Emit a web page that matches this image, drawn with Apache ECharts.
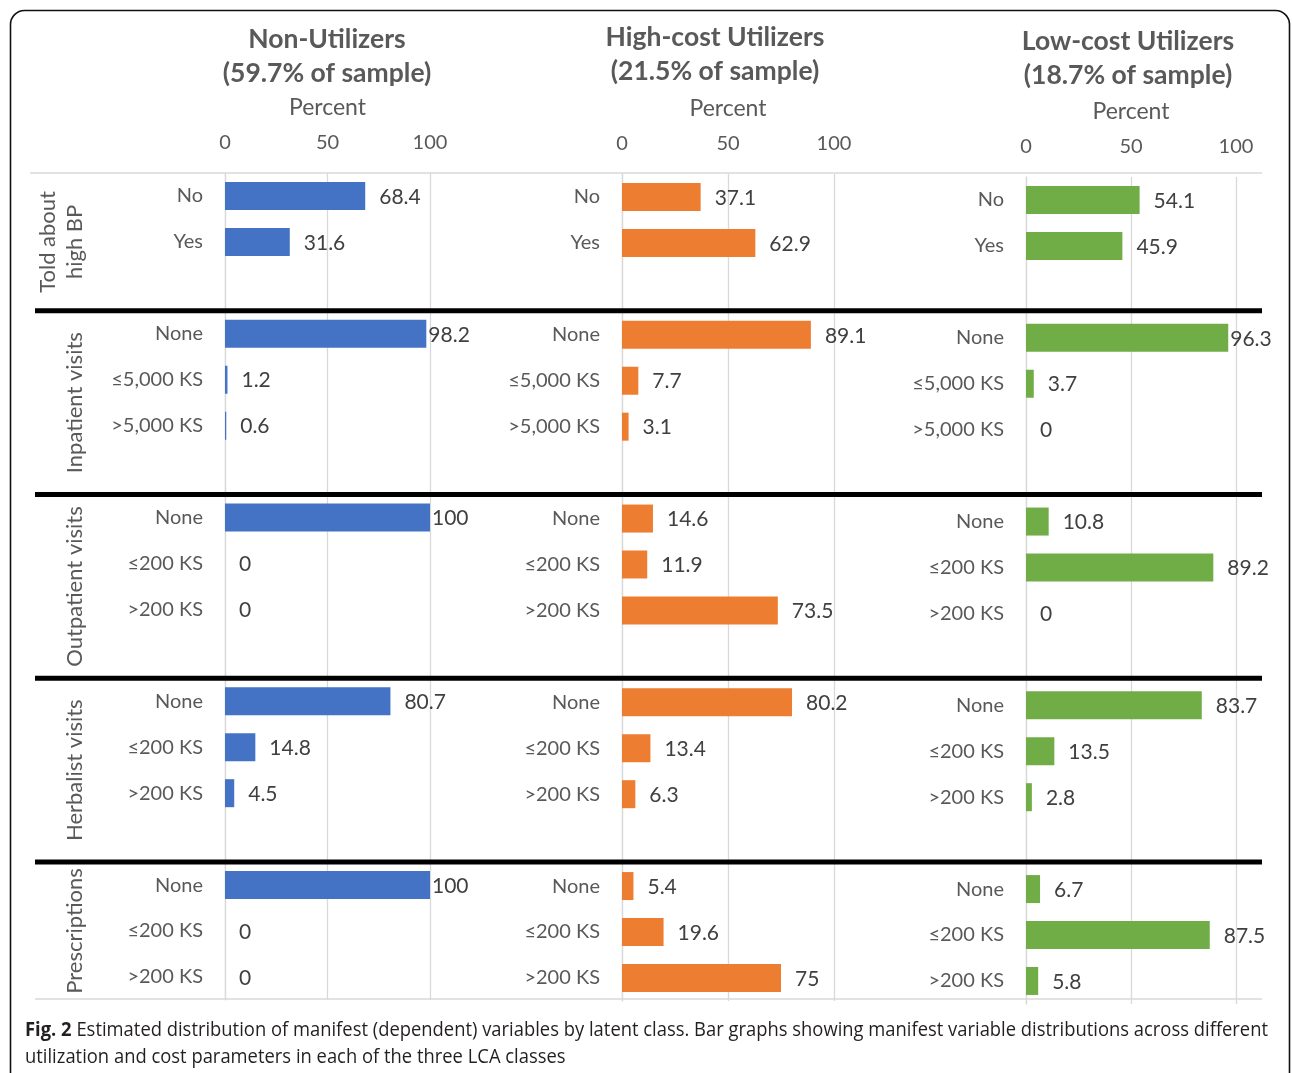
<!DOCTYPE html>
<html><head><meta charset="utf-8">
<script src="https://cdn.jsdelivr.net/npm/echarts@6/dist/echarts.min.js"></script>
<style>html,body{margin:0;padding:0;background:#fff}#c{width:1292px;height:1073px}</style>
</head><body><div id="c"></div>
<script>
// ---------- data ----------
const panelTitles = ['Non-Utilizers\n(59.7% of sample)', 'High-cost Utilizers\n(21.5% of sample)', 'Low-cost Utilizers\n(18.7% of sample)'];
const axisName = 'Percent';
const sectionNames = ['Told about\nhigh BP', 'Inpatient visits', 'Outpatient visits', 'Herbalist visits', 'Prescriptions'];
const sectionCategories = [
  ['No', 'Yes'],
  ['None', '≤5,000 KS', '>5,000 KS'],
  ['None', '≤200 KS', '>200 KS'],
  ['None', '≤200 KS', '>200 KS'],
  ['None', '≤200 KS', '>200 KS']
];
const nonUtilizers = [[68.4, 31.6], [98.2, 1.2, 0.6], [100, 0, 0], [80.7, 14.8, 4.5], [100, 0, 0]];
const highCostUtilizers = [[37.1, 62.9], [89.1, 7.7, 3.1], [14.6, 11.9, 73.5], [80.2, 13.4, 6.3], [5.4, 19.6, 75]];
const lowCostUtilizers = [[54.1, 45.9], [96.3, 3.7, 0], [10.8, 89.2, 0], [83.7, 13.5, 2.8], [6.7, 87.5, 5.8]];
const xTicks = [0, 50, 100];
const captionBold = 'Fig. 2';
const captionLine1 = ' Estimated distribution of manifest (dependent) variables by latent class. Bar graphs showing manifest variable distributions across different';
const captionLine2 = 'utilization and cost parameters in each of the three LCA classes';

// ---------- layout / style ----------
const FONT = 'Lato';
const CAPFONT = '"Open Sans"';
const SLOT = 45.94;
const panels = [
  { values: nonUtilizers, color: '#4472C4', left: 225, width: 205, top: 173, titleX: 327, titleY: 22 },
  { values: highCostUtilizers, color: '#ED7D31', left: 622, width: 212, top: 174, titleX: 715, titleY: 20 },
  { values: lowCostUtilizers, color: '#70AD47', left: 1026, width: 210, top: 177, titleX: 1128, titleY: 24 }
];

const slotLabels = [];
sectionCategories.forEach((cats, s) => {
  cats.forEach(c => slotLabels.push(c));
  if (s < sectionCategories.length - 1) slotLabels.push('');
});
function toSlots(vals) {
  const out = [];
  vals.forEach((sec, s) => {
    sec.forEach(v => out.push(v));
    if (s < vals.length - 1) out.push('-');
  });
  return out;
}

const grids = [], xAxes = [], yAxes = [], series = [];
panels.forEach((p, i) => {
  grids.push({ left: p.left, width: p.width, top: p.top, height: SLOT * slotLabels.length });
  xAxes.push({
    type: 'value', gridIndex: i, position: 'top', min: xTicks[0], max: xTicks[xTicks.length - 1],
    interval: xTicks[1] - xTicks[0],
    axisLine: { show: false }, axisTick: { show: false },
    axisLabel: { fontSize: 20, color: '#595959', fontFamily: FONT, margin: 20 },
    splitLine: { show: true, lineStyle: { color: '#d9d9d9', width: 1.3 } },
    name: axisName, nameLocation: 'middle', nameGap: 54,
    nameTextStyle: { fontSize: 23, color: '#595959', fontFamily: FONT }
  });
  yAxes.push({
    type: 'category', gridIndex: i, data: slotLabels, inverse: true,
    axisLine: { show: true, lineStyle: { color: '#d9d9d9', width: 1.3 } },
    axisTick: { show: false },
    axisLabel: { interval: 0, fontSize: 20, color: '#595959', fontFamily: FONT, margin: 22 },
    splitLine: { show: false }
  });
  series.push({
    type: 'bar', xAxisIndex: i, yAxisIndex: i, barWidth: 28,
    itemStyle: { color: p.color },
    label: { show: true, position: 'right', fontSize: 21, color: '#404040', fontFamily: FONT, offset: [0, 1] },
    data: toSlots(p.values).map(v => v === '-' ? '-' : { value: v, label: { distance: v > 95 ? 2 : 14 } }),
    animation: false
  });
});

const chart = echarts.init(document.getElementById('c'));
chart.setOption({
  animation: false,
  grid: grids, xAxis: xAxes, yAxis: yAxes, series: series
});

// ---------- decorations computed from the axis scale ----------
const py = i => chart.convertToPixel({ gridIndex: 0 }, [0, i])[1];
const gapIdx = [];
slotLabels.forEach((l, i) => { if (l === '') gapIdx.push(i); });
const topY = py(0) - SLOT / 2;
const botY = py(slotLabels.length - 1) + SLOT / 2;
const seps = gapIdx.map(g => (py(g) + py(g + 1)) / 2);
const bounds = [topY].concat(seps).concat([botY]);

const graphics = [];
graphics.push({ type: 'rect', shape: { x: 10.5, y: 10.5, width: 1279, height: 1120, r: 14 },
  style: { fill: 'none', stroke: '#111', lineWidth: 1.6 }, z: 10 });
graphics.push({ type: 'line', shape: { x1: 30, y1: topY, x2: 1262, y2: topY }, style: { stroke: '#d9d9d9', lineWidth: 1.5 }, z: 5 });
graphics.push({ type: 'line', shape: { x1: 35, y1: botY - 1, x2: 1262, y2: botY - 1 }, style: { stroke: '#d9d9d9', lineWidth: 1.5 }, z: 5 });
seps.forEach(y => graphics.push({ type: 'line', shape: { x1: 35, y1: y, x2: 1262, y2: y }, style: { stroke: '#000', lineWidth: 5 }, z: 6 }));
sectionNames.forEach((name, s) => {
  graphics.push({ type: 'text', x: 88, y: (bounds[s] + bounds[s + 1]) / 2, rotation: Math.PI / 2,
    style: { text: name, fontSize: 22, fontFamily: FONT, fill: '#595959', align: 'center', verticalAlign: 'bottom', lineHeight: 27 }, z: 7 });
});
panels.forEach((p, i) => {
  graphics.push({ type: 'text', x: p.titleX, y: p.titleY,
    style: { text: panelTitles[i], fontSize: 26.5, fontWeight: 'bold', fontFamily: FONT, fill: '#595959', align: 'center', verticalAlign: 'top', lineHeight: 34 }, z: 7 });
});
// caption (width fitted to the figure)
const ctx = document.createElement('canvas').getContext('2d');
ctx.font = 'bold 20px ' + CAPFONT; const wb = ctx.measureText(captionBold).width;
ctx.font = '20px ' + CAPFONT; const wr = ctx.measureText(captionLine1).width;
const sx = 1243 / (wb + wr);
graphics.push({ type: 'text', x: 25, y: 1030, scaleX: sx, originX: 0,
  style: { text: '{b|' + captionBold + '}' + captionLine1, fontSize: 20, fontFamily: CAPFONT, fill: '#231f20', verticalAlign: 'middle',
    rich: { b: { fontWeight: 'bold', fontSize: 20, fontFamily: CAPFONT, fill: '#231f20' } } }, z: 7 });
graphics.push({ type: 'text', x: 25, y: 1057, scaleX: sx, originX: 0,
  style: { text: captionLine2, fontSize: 20, fontFamily: CAPFONT, fill: '#231f20', verticalAlign: 'middle' }, z: 7 });

chart.setOption({ graphic: graphics });
</script>
</body></html>
